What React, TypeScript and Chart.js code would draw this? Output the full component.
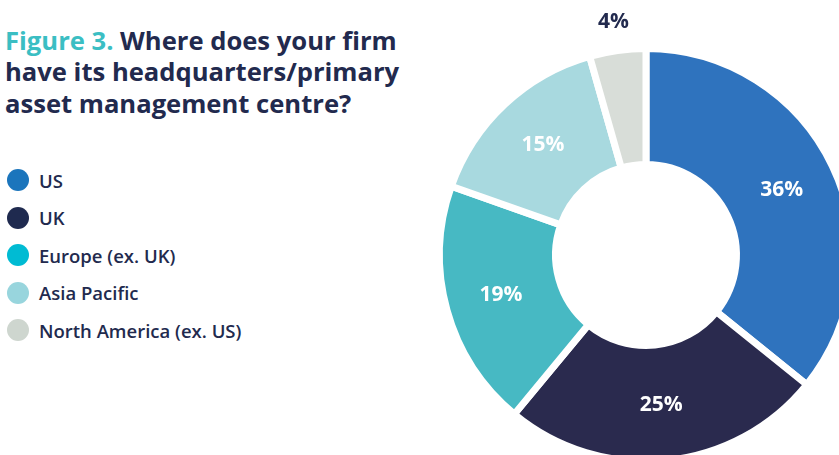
import React, { useEffect, useRef } from "react";
import { Chart, registerables } from "chart.js";

Chart.register(...registerables);

const categories = ["US", "UK", "Europe (ex. UK)", "Asia Pacific", "North America (ex. US)"];
const shares = [35.8, 25.2, 19.4, 15.2, 4.4];
const shareLabels = ["36%", "25%", "19%", "15%", "4%"];
const sliceColors = ["#2F73BE", "#2A2A4E", "#47B9C3", "#A8D9DF", "#D8DDD8"];
const legendColors = ["#1B75BC", "#1F2A4F", "#00BBD3", "#98D5DD", "#CED6CF"];
const labelColors = ["#FFFFFF", "#FFFFFF", "#FFFFFF", "#FFFFFF", "#222A4E"];
const labelOutside = [false, false, false, false, true];

const NAVY = "#222A4E";
const TEAL = "#3BBEC3";
const FONT = "'Open Sans', 'Noto Sans', sans-serif";

const sliceLabelPlugin = {
  id: "sliceLabels",
  afterDatasetsDraw(chart: any) {
    const meta = chart.getDatasetMeta(0);
    const ctx = chart.ctx;
    ctx.save();
    ctx.font = `bold 21px ${FONT}`;
    ctx.textAlign = "center";
    ctx.textBaseline = "middle";
    meta.data.forEach((arc: any, i: number) => {
      const p = arc.getProps(["x", "y", "startAngle", "endAngle", "innerRadius", "outerRadius"], true);
      const mid = (p.startAngle + p.endAngle) / 2;
      const r = labelOutside[i] ? p.outerRadius + 29 : (p.innerRadius + p.outerRadius) / 2 + 2;
      ctx.fillStyle = labelColors[i];
      ctx.fillText(shareLabels[i], p.x + Math.cos(mid) * r, p.y + Math.sin(mid) * r);
    });
    ctx.restore();
  },
};

export default function App() {
  const ref = useRef<HTMLCanvasElement | null>(null);

  useEffect(() => {
    document.body.style.margin = "0";
    if (!ref.current) return;
    const chart = new Chart(ref.current, {
      type: "doughnut",
      data: {
        labels: categories,
        datasets: [
          {
            data: shares,
            backgroundColor: sliceColors,
            borderColor: "#FFFFFF",
            borderWidth: 7,
            hoverOffset: 0,
          },
        ],
      },
      options: {
        animation: false,
        responsive: false,
        maintainAspectRatio: false,
        cutout: "43.8%",
        layout: { padding: 40 },
        plugins: {
          legend: { display: false },
          tooltip: { enabled: false },
          title: { display: false },
        },
      },
      plugins: [sliceLabelPlugin],
    });
    return () => chart.destroy();
  }, []);

  return (
    <div
      style={{
        position: "fixed",
        left: 0,
        top: 0,
        width: 839,
        height: 455,
        overflow: "hidden",
        background: "#FFFFFF",
        fontFamily: FONT,
      }}
    >
      <div
        style={{
          position: "absolute",
          left: 5,
          top: 24.5,
          width: 430,
          fontSize: 25.6,
          lineHeight: "31.5px",
          fontWeight: 700,
          color: NAVY,
          whiteSpace: "nowrap",
        }}
      >
        <span style={{ color: TEAL }}>Figure 3.</span> Where does your firm
        <br />
        have its headquarters/primary
        <br />
        asset management centre?
      </div>
      <div style={{ position: "absolute", left: 7, top: 169 }}>
        {categories.map((c, i) => (
          <div
            key={c}
            style={{ display: "flex", alignItems: "center", height: 22, marginBottom: 15.5 }}
          >
            <div
              style={{
                width: 22,
                height: 22,
                borderRadius: "50%",
                background: legendColors[i],
                flex: "none",
              }}
            />
            <span
              style={{
                marginLeft: 10,
                fontSize: 18.5,
                fontWeight: 600,
                color: NAVY,
                whiteSpace: "nowrap",
              }}
            >
              {c}
            </span>
          </div>
        ))}
      </div>
      <canvas
        ref={ref}
        width={500}
        height={500}
        style={{ position: "absolute", left: 395.5, top: 5, width: 500, height: 500 }}
      />
    </div>
  );
}
